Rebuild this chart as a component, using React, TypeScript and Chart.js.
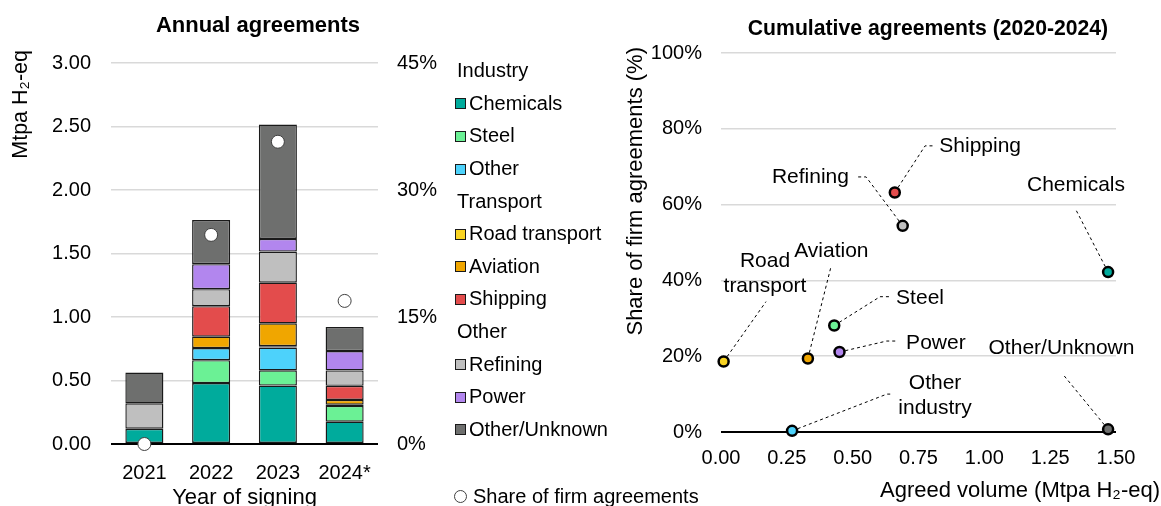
import React, { useEffect, useRef } from "react";
import { Chart, registerables } from "chart.js";

Chart.register(...registerables);

const FONT_FAMILY = "'Liberation Sans', Arial, Helvetica, sans-serif";

// ---------- Annual agreements (stacked bars) ----------
const years = ["2021", "2022", "2023", "2024*"];
const seriesNames = ["Chemicals", "Steel", "Other", "Road transport", "Aviation", "Shipping", "Refining", "Power", "Other/Unknown"];
const seriesGroups = ["Industry", "Industry", "Industry", "Transport", "Transport", "Transport", "Other", "Other", "Other"];
const legendGroups = ["Industry", "Transport", "Other"];
const seriesColors = ["#00ab9c", "#6bf195", "#4dd2fb", "#f9d423", "#f0a600", "#e34c4c", "#bfbfbf", "#b286ee", "#6e6f6e"];

const chemicals = [0.12, 0.48, 0.46, 0.176];
const steel = [0, 0.18, 0.12, 0.124];
const otherIndustry = [0, 0.095, 0.18, 0];
const roadTransport = [0, 0, 0.01, 0.01];
const aviation = [0, 0.09, 0.18, 0.037];
const shipping = [0, 0.24, 0.32, 0.111];
const refining = [0.2, 0.134, 0.245, 0.121];
const power = [0, 0.197, 0.1, 0.153];
const otherUnknown = [0.243, 0.347, 0.9, 0.189];
const barSeries = [chemicals, steel, otherIndustry, roadTransport, aviation, shipping, refining, power, otherUnknown];

const firmShareLabel = "Share of firm agreements";
const firmShare = [0, 24.7, 35.7, 16.9];

// ---------- Cumulative agreements (scatter) ----------
const sectorLabels = [["Chemicals"], ["Steel"], ["Other", "industry"], ["Road", "transport"], ["Aviation"], ["Shipping"], ["Refining"], ["Power"], ["Other/Unknown"]];
const cumVolume = [1.47, 0.43, 0.27, 0.01, 0.33, 0.66, 0.69, 0.45, 1.47];
const cumFirmShare = [42.2, 28.1, 0.3, 18.6, 19.4, 63.2, 54.4, 21.1, 0.7];

// annotation layout (in data units of the scatter chart)
const labelAnchor = [[1.348, 65], [0.665, 35.3], [0.813, 9.6], [0.167, 41.8], [0.419, 47.6], [0.829, 75.5], [0.486, 67.1], [0.703, 23.4], [1.293, 22.1]];
const labelAlign: CanvasTextAlign[] = ["center", "left", "center", "center", "center", "left", "right", "left", "center"];
const leaderPaths = [
  [[1.348, 58.6]],
  [[0.604, 35.7], [0.642, 35.7]],
  [[0.63, 10], [0.649, 10]],
  [[0.171, 34.4]],
  [[0.418, 43.7]],
  [[0.775, 75.5], [0.809, 75.5]],
  [[0.551, 67.3], [0.513, 67.3]],
  [[0.629, 24], [0.672, 24]],
  [[1.301, 15]],
];

type TextItem = {
  text: string;
  x: (c: any) => number;
  y: (c: any) => number;
  align: CanvasTextAlign;
  rotate?: boolean;
  bold?: boolean;
  size?: number;
};

const makeTextPlugin = (id: string, items: TextItem[]) => ({
  id,
  afterDraw(chart: any) {
    const ctx = chart.ctx;
    items.forEach((it) => {
      ctx.save();
      ctx.font = `${it.bold ? "bold " : ""}${it.size ?? 20}px ${FONT_FAMILY}`;
      ctx.fillStyle = "#000";
      ctx.textAlign = it.align;
      ctx.textBaseline = "alphabetic";
      ctx.translate(it.x(chart), it.y(chart));
      if (it.rotate) ctx.rotate(-Math.PI / 2);
      ctx.fillText(it.text, 0, 0);
      ctx.restore();
    });
  },
});

const annotationPlugin = {
  id: "sectorLabels",
  beforeDatasetsDraw(chart: any) {
    const { ctx } = chart;
    const xs = chart.scales.x;
    const ys = chart.scales.y;
    ctx.save();
    ctx.strokeStyle = "#000";
    ctx.lineWidth = 1;
    ctx.setLineDash([3, 3]);
    cumVolume.forEach((v, i) => {
      ctx.beginPath();
      ctx.moveTo(xs.getPixelForValue(v), ys.getPixelForValue(cumFirmShare[i]));
      leaderPaths[i].forEach(([lx, ly]) => ctx.lineTo(xs.getPixelForValue(lx), ys.getPixelForValue(ly)));
      ctx.stroke();
    });
    ctx.restore();
  },
  afterDatasetsDraw(chart: any) {
    const { ctx } = chart;
    const xs = chart.scales.x;
    const ys = chart.scales.y;
    ctx.save();
    ctx.font = `21px ${FONT_FAMILY}`;
    ctx.fillStyle = "#000";
    ctx.textBaseline = "middle";
    sectorLabels.forEach((lines, i) => {
      ctx.textAlign = labelAlign[i];
      const px = xs.getPixelForValue(labelAnchor[i][0]);
      const py = ys.getPixelForValue(labelAnchor[i][1]);
      const lh = 25.5;
      const startY = py - ((lines.length - 1) * lh) / 2;
      lines.forEach((t, k) => ctx.fillText(t, px, startY + k * lh));
    });
    ctx.restore();
  },
};

const tickFont = { family: FONT_FAMILY, size: 20 };
const gridColor = (ctx: any) => (ctx.tick && ctx.tick.value === 0 ? "#000" : "#d9d9d9");
const gridWidth = (ctx: any) => (ctx.tick && ctx.tick.value === 0 ? 2 : 1.5);

export default function App() {
  const leftRef = useRef<HTMLCanvasElement>(null);
  const rightRef = useRef<HTMLCanvasElement>(null);

  useEffect(() => {
    const left = new Chart(leftRef.current as HTMLCanvasElement, {
      type: "bar",
      data: {
        labels: years,
        datasets: [
          ...barSeries.map((vals, i) => ({
            type: "bar" as const,
            label: seriesNames[i],
            data: vals,
            backgroundColor: seriesColors[i],
            borderColor: "#1a1a1a",
            borderWidth: 1.4,
            borderSkipped: false as const,
            barPercentage: 0.57,
            categoryPercentage: 1,
            yAxisID: "y",
            order: 1,
          })),
          {
            type: "line" as const,
            label: firmShareLabel,
            data: firmShare,
            yAxisID: "y1",
            showLine: false,
            pointRadius: 6.5,
            pointBackgroundColor: "#ffffff",
            pointBorderColor: "#404040",
            pointBorderWidth: 1,
            order: 0,
            clip: false as any,
          },
        ],
      } as any,
      options: {
        responsive: false,
        animation: false,
        layout: { padding: { top: 63, left: 0, right: 0, bottom: 0 } },
        plugins: { legend: { display: false }, tooltip: { enabled: false }, title: { display: false } },
        scales: {
          x: {
            stacked: true,
            grid: { display: false, drawTicks: false },
            border: { display: false },
            ticks: { font: tickFont, color: "#000", padding: 17 },
            afterFit: (s: any) => { s.height = 62; },
          },
          y: {
            stacked: true,
            position: "left",
            min: 0,
            max: 3,
            ticks: { stepSize: 0.5, callback: (v: any) => Number(v).toFixed(2), padding: 20, font: tickFont, color: "#000" },
            grid: { color: gridColor, lineWidth: gridWidth, drawTicks: false },
            border: { display: false },
            afterFit: (s: any) => { s.width = 111; },
          },
          y1: {
            position: "right",
            min: 0,
            max: 45,
            ticks: { stepSize: 15, callback: (v: any) => `${v}%`, padding: 19, font: tickFont, color: "#000" },
            grid: { display: false, drawTicks: false },
            border: { display: false },
            afterFit: (s: any) => { s.width = 138; },
          },
        },
      } as any,
      plugins: [
        makeTextPlugin("leftTexts", [
          { text: "Annual agreements", x: () => 258, y: () => 31.5, align: "center", bold: true, size: 22 },
          { text: "Mtpa H\u2082-eq", x: () => 26.5, y: () => 50, align: "right", rotate: true, size: 21.5 },
          { text: "Year of signing", x: (c) => (c.chartArea.left + c.chartArea.right) / 2, y: () => 504, align: "center", size: 22 },
        ]),
      ],
    });

    const right = new Chart(rightRef.current as HTMLCanvasElement, {
      type: "scatter",
      data: {
        datasets: [
          {
            label: "Cumulative agreements",
            data: cumVolume.map((x, i) => ({ x, y: cumFirmShare[i] })),
            pointRadius: 5,
            pointBorderWidth: 2.5,
            pointBorderColor: "#000",
            pointBackgroundColor: seriesColors,
            clip: false as any,
          },
        ],
      },
      options: {
        responsive: false,
        animation: false,
        layout: { padding: { top: 53, left: 0, right: 45, bottom: 0 } },
        plugins: { legend: { display: false }, tooltip: { enabled: false }, title: { display: false } },
        scales: {
          x: {
            type: "linear",
            min: 0,
            max: 1.5,
            ticks: { stepSize: 0.25, callback: (v: any) => Number(v).toFixed(2), padding: 14, font: tickFont, color: "#000" },
            grid: { display: false, drawTicks: false },
            border: { display: false },
            afterFit: (s: any) => { s.height = 74; },
          },
          y: {
            min: 0,
            max: 100,
            ticks: { stepSize: 20, callback: (v: any) => `${v}%`, padding: 19, font: tickFont, color: "#000" },
            grid: { color: gridColor, lineWidth: gridWidth, drawTicks: false },
            border: { display: false },
            afterFit: (s: any) => { s.width = 121; },
          },
        },
      } as any,
      plugins: [
        annotationPlugin,
        makeTextPlugin("rightTexts", [
          { text: "Cumulative agreements (2020-2024)", x: () => 328, y: () => 34.5, align: "center", bold: true, size: 21.2 },
          { text: "Share of firm agreements (%)", x: () => 41.5, y: () => 47, align: "right", rotate: true, size: 22 },
          { text: "Agreed volume (Mtpa H\u2082-eq)", x: () => 560, y: () => 496.5, align: "right", size: 22 },
        ]),
      ],
    });

    return () => {
      left.destroy();
      right.destroy();
    };
  }, []);

  // legend rows built from series arrays
  const rows: { kind: "head" | "item"; text: string; color?: string }[] = [];
  legendGroups.forEach((g) => {
    rows.push({ kind: "head", text: g });
    seriesNames.forEach((n, i) => {
      if (seriesGroups[i] === g) rows.push({ kind: "item", text: n, color: seriesColors[i] });
    });
  });

  const textStyle: React.CSSProperties = {
    position: "absolute",
    font: `20px ${FONT_FAMILY}`,
    lineHeight: "23px",
    color: "#000",
    whiteSpace: "nowrap",
  };

  return (
    <div style={{ position: "absolute", left: 0, top: 0, width: 1161, height: 506, overflow: "hidden", background: "#fff" }}>
      <canvas ref={leftRef} width={516} height={506} style={{ position: "absolute", left: 0, top: 0 }} />
      <canvas ref={rightRef} width={561} height={506} style={{ position: "absolute", left: 600, top: 0 }} />
      <div style={{ position: "absolute", left: 0, top: 0, zIndex: 2 }}>
        {rows.map((r, i) => {
          const cy = 70.7 + i * 32.6;
          if (r.kind === "head") {
            return (
              <div key={i} style={{ ...textStyle, left: 457, top: cy - 11.5 }}>{r.text}</div>
            );
          }
          return (
            <React.Fragment key={i}>
              <div style={{ position: "absolute", left: 455, top: cy - 5, width: 9, height: 9, background: r.color, border: "1px solid #1a1a1a" }} />
              <div style={{ ...textStyle, left: 469, top: cy - 11.5 }}>{r.text}</div>
            </React.Fragment>
          );
        })}
        <div style={{ position: "absolute", left: 454, top: 490, width: 11, height: 11, borderRadius: "50%", background: "#fff", border: "1px solid #404040" }} />
        <div style={{ ...textStyle, left: 473, top: 496 - 11.5 }}>{firmShareLabel}</div>
      </div>
    </div>
  );
}
